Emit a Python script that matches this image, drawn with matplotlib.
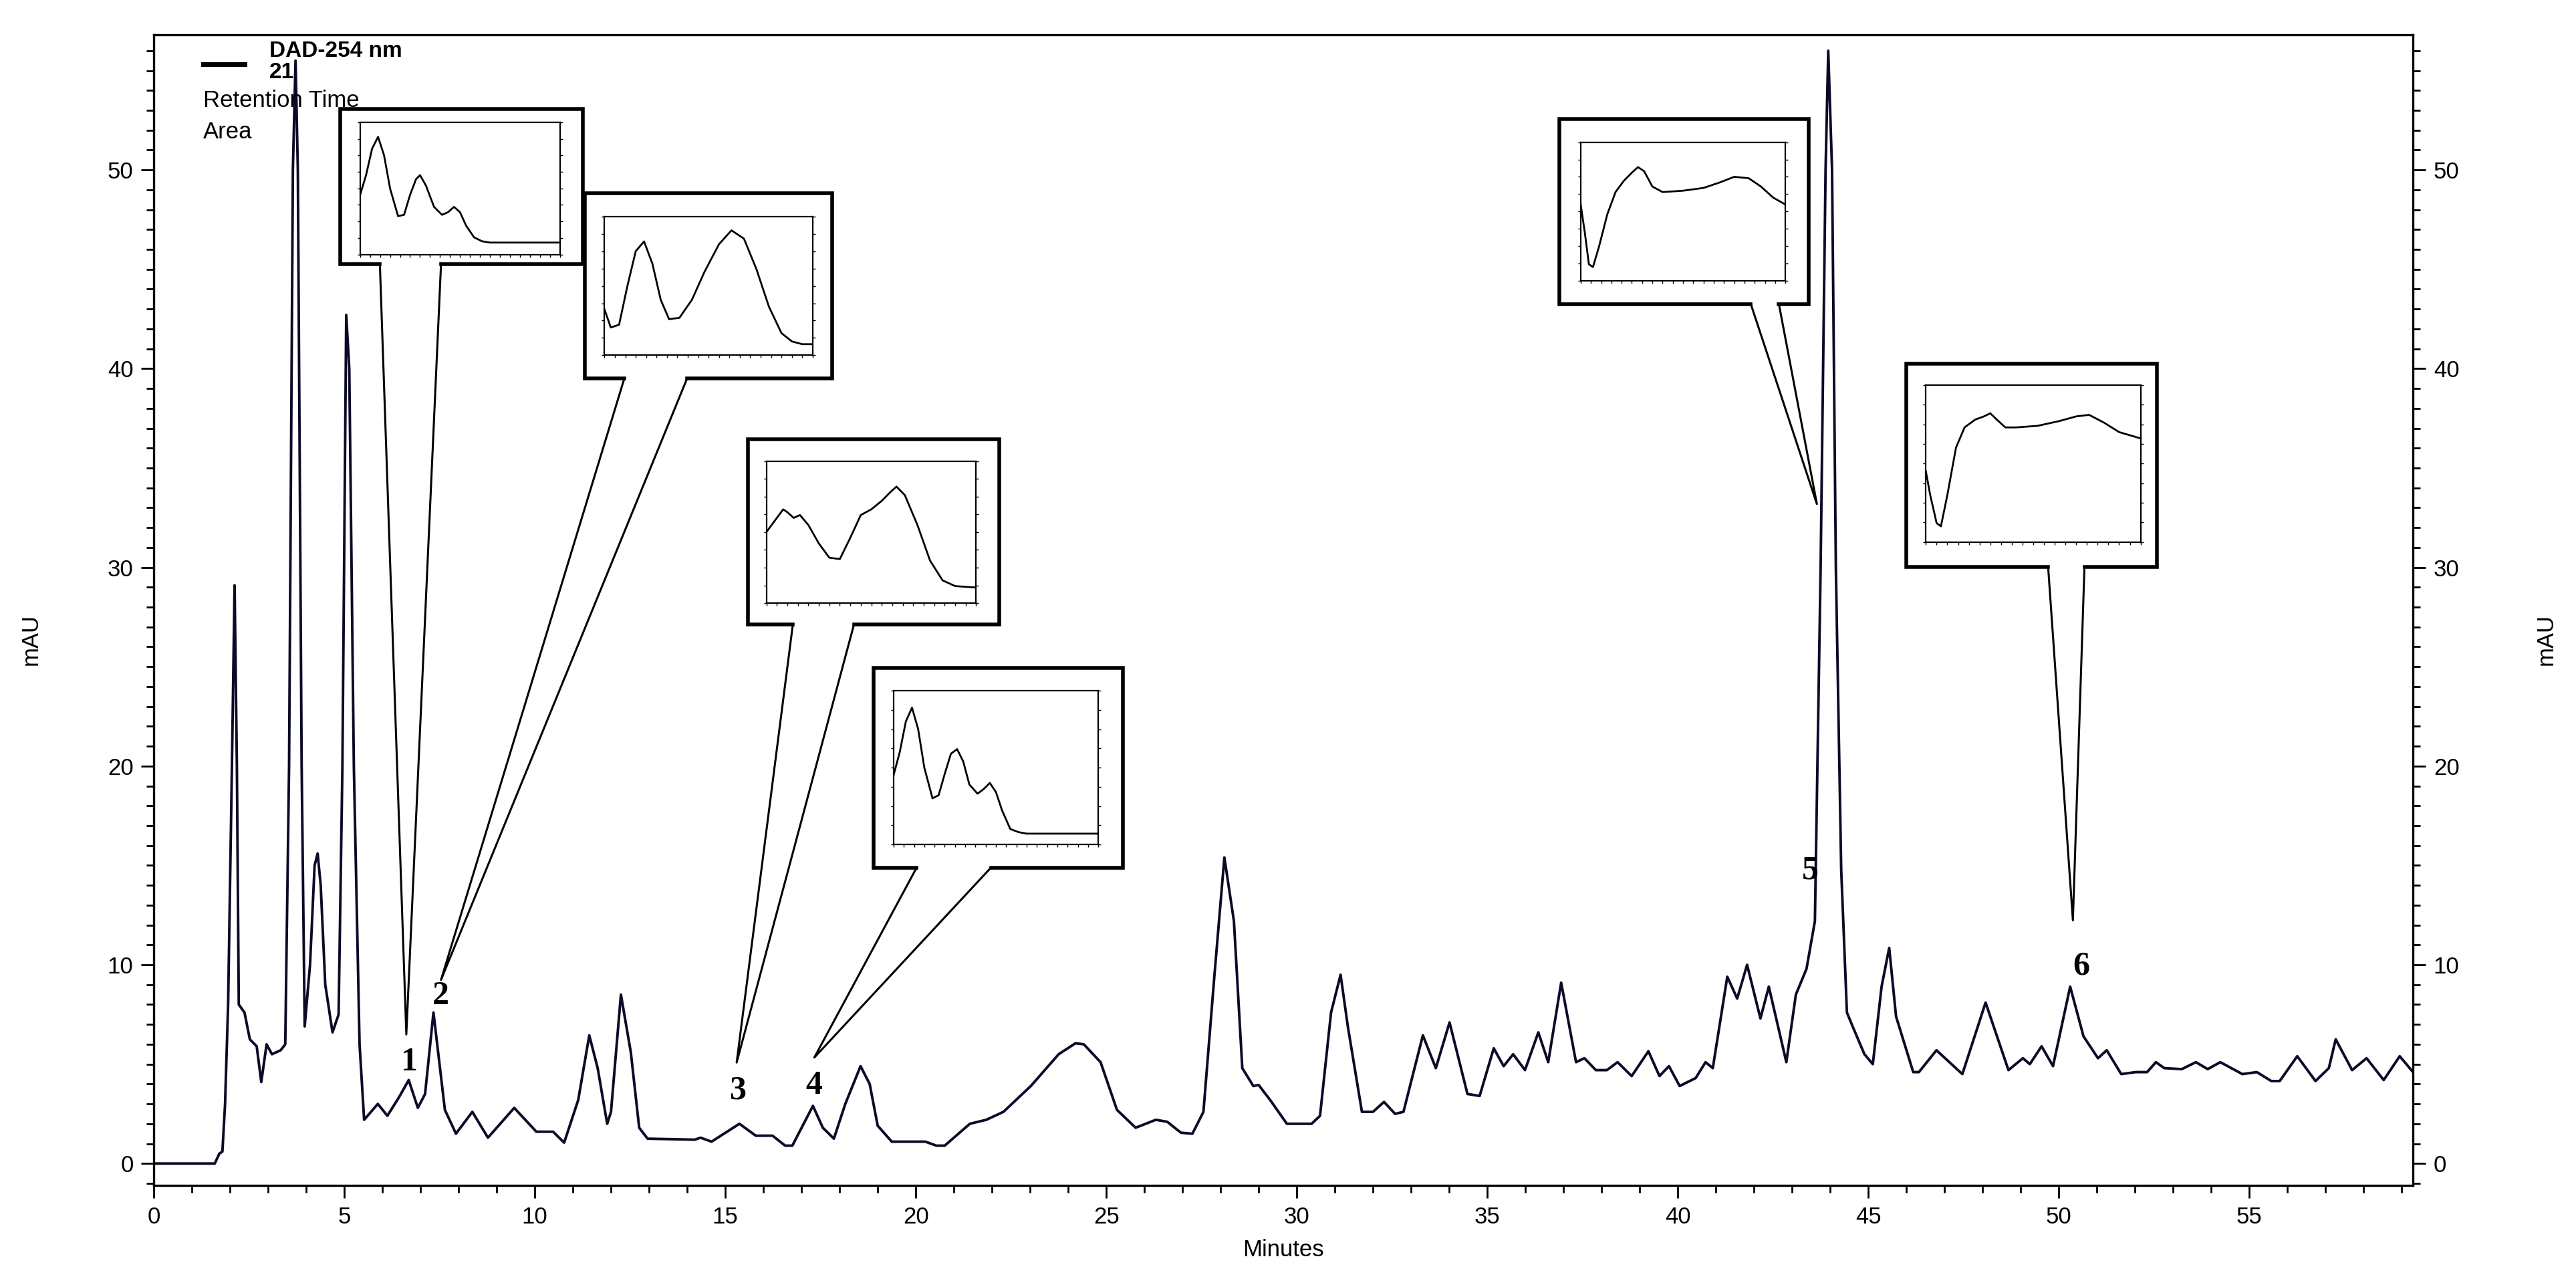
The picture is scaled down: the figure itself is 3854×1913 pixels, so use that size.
import matplotlib
matplotlib.use("Agg")
import matplotlib.pyplot as plt
from matplotlib.patches import Polygon
from matplotlib.ticker import MultipleLocator

plt.rcParams['font.family'] = ['Liberation Sans', 'DejaVu Sans']

# ---- chromatogram data (minutes, mAU) ----
time_min = [0, 1.6, 1.72, 1.8, 1.87, 1.95, 2.05, 2.12, 2.18, 2.23, 2.38, 2.52, 2.7, 2.82, 2.96, 3.1, 3.33,
            3.45, 3.55, 3.65, 3.72, 3.78, 3.88, 3.96, 4.1, 4.22, 4.3, 4.38, 4.5, 4.69, 4.85, 4.95, 5.05, 5.13,
            5.25, 5.4, 5.52, 5.88, 6.13, 6.44, 6.69, 6.93, 7.12, 7.34, 7.64, 7.93, 8.36, 8.77, 9.46, 10.04,
            10.48, 10.77, 11.14, 11.43, 11.65, 11.9, 12.0, 12.26, 12.52, 12.74, 12.96, 14.2, 14.35, 14.64,
            15.37, 15.8, 16.24, 16.57, 16.76, 17.3, 17.56, 17.85, 18.15, 18.55, 18.79, 19.0, 19.37, 20.25,
            20.54, 20.76, 21.42, 21.85, 22.3, 23.02, 23.75, 24.19, 24.41, 24.85, 25.28, 25.77, 26.3, 26.6,
            26.96, 27.26, 27.55, 27.84, 28.1, 28.35, 28.57, 28.86, 29.0, 29.3, 29.74, 30.39, 30.61, 30.9,
            31.15, 31.34, 31.71, 32.0, 32.29, 32.58, 32.8, 33.31, 33.65, 34.01, 34.48, 34.8, 35.17, 35.43,
            35.68, 35.99, 36.34, 36.6, 36.94, 37.33, 37.55, 37.85, 38.14, 38.42, 38.79, 39.23, 39.52, 39.77,
            40.05, 40.47, 40.73, 40.92, 41.3, 41.56, 41.82, 42.17, 42.39, 42.85, 43.1, 43.38, 43.6, 43.75,
            43.88, 43.95, 44.05, 44.15, 44.29, 44.44, 44.59, 44.9, 45.12, 45.35, 45.55, 45.73, 46.18, 46.33,
            46.79, 47.47, 48.08, 48.68, 49.06, 49.24, 49.55, 49.85, 50.3, 50.65, 51.03, 51.26, 51.64, 52.02,
            52.32, 52.55, 52.77, 53.23, 53.6, 53.91, 54.24, 54.82, 55.2, 55.58, 55.8, 56.26, 56.74, 57.09,
            57.27, 57.7, 58.08, 58.53, 58.95, 59.3]
mau = [0, 0, 0.5, 0.6, 3.0, 8.0, 20.0, 29.1, 20.0, 8.0, 7.6, 6.25, 5.9, 4.1, 6.0, 5.5, 5.7,
       6.0, 20.0, 50.0, 55.5, 50.0, 20.0, 6.9, 10.0, 15.0, 15.6, 14.0, 9.0, 6.6, 7.5, 20.0, 42.7, 40.0,
       20.0, 6.0, 2.2, 3.0, 2.4, 3.35, 4.2, 2.8, 3.5, 7.6, 2.7, 1.5, 2.6, 1.3, 2.8, 1.6,
       1.6, 1.05, 3.2, 6.45, 4.8, 2.0, 2.6, 8.5, 5.6, 1.8, 1.25, 1.2, 1.3, 1.1,
       2.0, 1.4, 1.4, 0.9, 0.9, 2.9, 1.8, 1.25, 3.0, 4.9, 4.0, 1.9, 1.1, 1.1,
       0.9, 0.9, 2.0, 2.2, 2.6, 3.9, 5.5, 6.05, 6.0, 5.1, 2.7, 1.8, 2.2, 2.1,
       1.55, 1.5, 2.6, 9.5, 15.4, 12.2, 4.8, 3.9, 3.95, 3.2, 2.0, 2.0, 2.4, 7.6,
       9.5, 6.9, 2.6, 2.6, 3.1, 2.5, 2.6, 6.45, 4.8, 7.1, 3.5, 3.4, 5.8, 4.9,
       5.5, 4.7, 6.6, 5.1, 9.1, 5.1, 5.3, 4.7, 4.7, 5.1, 4.4, 5.65, 4.4, 4.9,
       3.9, 4.3, 5.1, 4.8, 9.4, 8.3, 10.0, 7.3, 8.9, 5.1, 8.5, 9.8, 12.2, 30.0,
       50.0, 56.0, 50.0, 30.0, 14.8, 7.6, 6.9, 5.5, 5.0, 8.9, 10.85, 7.4, 4.6, 4.6,
       5.7, 4.5, 8.1, 4.7, 5.3, 5.0, 5.9, 4.9, 8.9, 6.4, 5.3, 5.7, 4.5, 4.6,
       4.6, 5.1, 4.8, 4.75, 5.1, 4.75, 5.1, 4.5, 4.6, 4.15, 4.15, 5.4, 4.15, 4.8,
       6.25, 4.7, 5.3, 4.2, 5.4, 4.6]

peak_labels = ["1", "2", "3", "4", "5", "6"]

# ---- UV spectra shown in the callouts (normalised x, y) ----
spec_x = [
    [0, 0.03, 0.06, 0.09, 0.12, 0.15, 0.19, 0.22, 0.25, 0.28, 0.30, 0.33, 0.37, 0.41, 0.44, 0.47, 0.50, 0.53, 0.57, 0.61, 0.65, 1.0],
    [0, 0.03, 0.07, 0.11, 0.15, 0.19, 0.23, 0.27, 0.31, 0.36, 0.42, 0.48, 0.55, 0.61, 0.67, 0.73, 0.79, 0.85, 0.90, 0.95, 1.0],
    [0, 0.04, 0.08, 0.10, 0.13, 0.16, 0.20, 0.25, 0.30, 0.35, 0.40, 0.45, 0.50, 0.55, 0.59, 0.62, 0.66, 0.72, 0.78, 0.84, 0.90, 1.0],
    [0, 0.03, 0.06, 0.09, 0.12, 0.15, 0.19, 0.22, 0.25, 0.28, 0.31, 0.34, 0.37, 0.41, 0.44, 0.47, 0.50, 0.53, 0.57, 0.61, 0.65, 1.0],
    [0, 0.02, 0.04, 0.06, 0.09, 0.13, 0.17, 0.21, 0.25, 0.28, 0.31, 0.35, 0.40, 0.50, 0.60, 0.68, 0.75, 0.82, 0.88, 0.94, 1.0],
    [0, 0.02, 0.05, 0.07, 0.10, 0.14, 0.18, 0.23, 0.27, 0.30, 0.33, 0.37, 0.42, 0.52, 0.62, 0.70, 0.76, 0.83, 0.90, 1.0],
]
spec_y = [
    [0.45, 0.60, 0.80, 0.89, 0.75, 0.50, 0.29, 0.30, 0.45, 0.57, 0.60, 0.52, 0.36, 0.30, 0.32, 0.36, 0.32, 0.22, 0.13, 0.10, 0.09, 0.09],
    [0.33, 0.20, 0.22, 0.50, 0.75, 0.82, 0.66, 0.40, 0.26, 0.27, 0.40, 0.60, 0.80, 0.90, 0.84, 0.62, 0.35, 0.16, 0.10, 0.08, 0.08],
    [0.50, 0.58, 0.66, 0.64, 0.60, 0.62, 0.55, 0.42, 0.32, 0.31, 0.46, 0.62, 0.66, 0.72, 0.78, 0.82, 0.76, 0.55, 0.30, 0.16, 0.12, 0.11],
    [0.45, 0.60, 0.80, 0.89, 0.75, 0.50, 0.30, 0.32, 0.46, 0.59, 0.62, 0.54, 0.39, 0.33, 0.36, 0.40, 0.34, 0.22, 0.10, 0.08, 0.07, 0.07],
    [0.55, 0.35, 0.12, 0.10, 0.25, 0.48, 0.64, 0.72, 0.78, 0.82, 0.79, 0.68, 0.64, 0.65, 0.67, 0.71, 0.75, 0.74, 0.68, 0.60, 0.55],
    [0.45, 0.30, 0.12, 0.10, 0.30, 0.60, 0.73, 0.78, 0.80, 0.82, 0.78, 0.73, 0.73, 0.74, 0.77, 0.80, 0.81, 0.76, 0.70, 0.66],
]

W, H = 1560.0, 774.0  # layout reference units (scaled picture)
def fx(x): return x / W
def fy(y): return 1 - y / H

fig = plt.figure(figsize=(38.55, 19.13), dpi=100)
ax = fig.add_axes([0.0597, 0.0732, 0.9365 - 0.0597, 0.9728 - 0.0732])
ax.plot(time_min, mau, color="#0b0b28", lw=2.8, zorder=2)
ax.set_xlim(0, 59.3)
ax.set_ylim(-1.1, 56.8)
ax.xaxis.set_major_locator(MultipleLocator(5))
ax.xaxis.set_minor_locator(MultipleLocator(1))
ax.yaxis.set_major_locator(MultipleLocator(10))
ax.yaxis.set_minor_locator(MultipleLocator(1))
ax.tick_params(which="both", direction="out", labelsize=25, width=2, right=True, labelright=True)
ax.tick_params(which="major", length=14, pad=8)
ax.tick_params(which="minor", length=8)
for s in ax.spines.values():
    s.set_linewidth(2.4)
ax.set_xlabel("Minutes", fontsize=25, labelpad=12)
fig.text(0.012, 0.5, "mAU", rotation=90, fontsize=25, va="center", ha="center")
fig.text(0.988, 0.5, "mAU", rotation=90, fontsize=25, va="center", ha="center")

# legend-like header text
fig.add_artist(plt.Line2D([fx(123), fx(148)], [fy(39), fy(39)], color="black", lw=5))
fig.text(fx(163), fy(31), "DAD-254 nm", fontsize=24, fontweight="bold", va="center")
fig.text(fx(163), fy(44), "21", fontsize=24, fontweight="bold", va="center")
fig.text(fx(123), fy(61), "Retention Time", fontsize=25, va="center")
fig.text(fx(123), fy(80), "Area", fontsize=25, va="center")

# callouts: outer box (l, t, r, b), inner box (l, t, r, b), pointer base x1, x2, tip (x, y)
callouts = [
    ((206, 66, 353, 160), (218, 74, 339, 154), 230, 267, (246, 626)),
    ((354, 117, 504, 229), (366, 131, 492, 215), 378, 416, (267, 593)),
    ((453, 266, 605, 378), (464, 279, 591, 365), 480, 517, (446, 643)),
    ((529, 404, 680, 525), (541, 418, 665, 511), 555, 600, (493, 640)),
    ((944, 72, 1095, 184), (957, 86, 1081, 170), 1060, 1077, (1100, 305)),
    ((1154, 220, 1306, 343), (1166, 233, 1296, 328), 1240, 1262, (1255, 557)),
]
for i, (outer, inner, b1, b2, tip) in enumerate(callouts):
    l, t, r, b = outer
    pts = [(fx(l), fy(t)), (fx(r), fy(t)), (fx(r), fy(b)), (fx(b2), fy(b)),
           (fx(tip[0]), fy(tip[1])), (fx(b1), fy(b)), (fx(l), fy(b))]
    fig.add_artist(Polygon(pts, closed=True, facecolor="white", edgecolor="none", zorder=5))
    fig.add_artist(plt.Line2D([fx(b2), fx(r), fx(r), fx(l), fx(l), fx(b1)],
                              [fy(b), fy(b), fy(t), fy(t), fy(b), fy(b)],
                              color="black", lw=4, zorder=6, solid_joinstyle="miter"))
    fig.add_artist(plt.Line2D([fx(b1), fx(tip[0]), fx(b2)], [fy(b), fy(tip[1]), fy(b)],
                              color="black", lw=2.2, zorder=6))
    il, it, ir, ib = inner
    iax = fig.add_axes([fx(il), fy(ib), fx(ir) - fx(il), fy(it) - fy(ib)], zorder=7)
    iax.plot(spec_x[i], spec_y[i], color="black", lw=2.0)
    iax.set_xlim(0, 1)
    iax.set_ylim(0, 1)
    iax.xaxis.set_major_locator(MultipleLocator(0.05))
    iax.yaxis.set_major_locator(MultipleLocator(0.125))
    iax.tick_params(direction="out", length=3, width=1, labelbottom=False, labelleft=False,
                    right=True, top=False)
    for s in iax.spines.values():
        s.set_linewidth(1.6)

# peak number labels
label_pos = [(248, 643), (267, 603), (447, 660), (493, 657), (1096, 527), (1260, 585)]
for lab, (x, y) in zip(peak_labels, label_pos):
    fig.text(fx(x), fy(y), lab, fontsize=36, fontweight="bold", family="Liberation Serif",
             ha="center", va="center", zorder=8)

fig.savefig("out.png", dpi=100)
